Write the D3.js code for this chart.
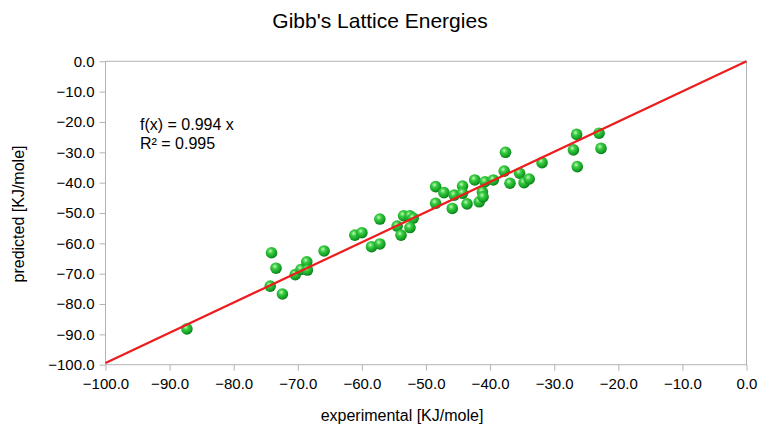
<!DOCTYPE html>
<html>
<head>
<meta charset="utf-8">
<script src="https://cdn.jsdelivr.net/npm/d3@7"></script>
<style>
    body { margin: 0; background: #fff; }
    text { font-family: "Liberation Sans", Arial, sans-serif; fill: #000; }
</style>
</head>
<body>
<div id="chart"></div>
<script>
/* Measured lattice energies against the model's prediction, KJ/mole. */
let experimental = [
    -87.3, -74.1, -73.4, -74.3, -72.4, -70.4, -69.5, -68.6, -68.5, -65.9,
    -61.1, -60.0, -57.2, -58.5, -57.2, -54.5, -53.9, -53.5, -52.5, -52.0,
    -52.5, -48.5, -47.2, -48.5, -45.9, -45.6, -44.3, -44.3, -43.6, -42.4,
    -41.7, -41.2, -40.8, -41.1, -39.5, -37.6, -37.8, -36.9, -35.4, -34.7,
    -33.9, -31.9, -26.5, -27.0, -26.4, -23.0, -22.7
];
let predicted = [
    -88.2, -63.1, -68.2, -74.1, -76.7, -70.3, -68.6, -66.1, -68.8, -62.5,
    -57.3, -56.5, -52.0, -61.1, -60.2, -54.3, -57.3, -50.9, -50.9, -51.7,
    -54.8, -41.3, -43.3, -46.8, -48.5, -44.1, -41.1, -43.5, -47.0, -39.1,
    -46.3, -43.0, -39.7, -44.7, -39.1, -30.0, -36.2, -40.2, -36.9, -40.0,
    -38.8, -33.4, -24.1, -29.2, -34.7, -23.7, -28.7
];

/* Linear trend through the origin, as fitted by the spreadsheet. */
let slope = 0.994;
let rSquared = 0.995;

/* Axis ticks, both axes run from -100 to 0 in steps of 10. */
let ticks = d3.range(-100, 1, 10);

let width = 760, height = 427;
let margins = {left: 105.5, right: 13.5, top: 61.3, bottom: 62.3};

let svg = d3.select("#chart").append("svg")
    .attr("width", width)
    .attr("height", height);

let xscale = d3.scaleLinear()
    .domain([-100, 0])
    .range([margins.left, width - margins.right]);
let yscale = d3.scaleLinear()
    .domain([-100, 0])
    .range([height - margins.bottom, margins.top]);

/* Shiny green ball used for every data point. */
let grad = svg.append("defs").append("radialGradient")
    .attr("id", "ball")
    .attr("cx", "40%").attr("cy", "35%").attr("r", "65%");
grad.append("stop").attr("offset", "0%").attr("stop-color", "#c4f7bc");
grad.append("stop").attr("offset", "35%").attr("stop-color", "#38cc40");
grad.append("stop").attr("offset", "80%").attr("stop-color", "#14a026");
grad.append("stop").attr("offset", "100%").attr("stop-color", "#0b7a18");

/* Axes: ticks stick out of the frame, no gridlines. */
let fmt = d3.format(".1f");
let xaxis = d3.axisBottom(xscale).tickValues(ticks).tickFormat(fmt)
    .tickSizeOuter(0).tickSizeInner(6).tickPadding(5);
let yaxis = d3.axisLeft(yscale).tickValues(ticks).tickFormat(fmt)
    .tickSizeOuter(0).tickSizeInner(6).tickPadding(5);

let gx = svg.append("g")
    .attr("transform", "translate(0," + (height - margins.bottom) + ")")
    .call(xaxis);
let gy = svg.append("g")
    .attr("transform", "translate(" + margins.left + ",0)")
    .call(yaxis);
[gx, gy].forEach(function(g) {
    g.select(".domain").remove();
    g.selectAll("line").attr("stroke", "#b3b3b3");
    g.selectAll("text")
        .style("font-family", "Liberation Sans, Arial, sans-serif")
        .style("font-size", "15px")
        .attr("fill", "#000");
});
gx.selectAll("text").attr("dy", "0.9em");

/* Plot frame */
svg.append("rect")
    .attr("x", xscale(-100))
    .attr("y", yscale(0))
    .attr("width", xscale(0) - xscale(-100))
    .attr("height", yscale(-100) - yscale(0))
    .attr("fill", "none")
    .attr("stroke", "#b3b3b3")
    .attr("stroke-width", 1);

/* Data points */
svg.selectAll("circle.pt")
    .data(d3.zip(experimental, predicted))
    .enter()
    .append("circle")
        .attr("class", "pt")
        .attr("cx", d => xscale(d[0]))
        .attr("cy", d => yscale(d[1]))
        .attr("r", 5.8)
        .attr("fill", "url(#ball)");

/* Trend line f(x) = slope * x over the full x range */
let line = d3.line()
    .x(d => xscale(d))
    .y(d => yscale(slope * d));
svg.append("path")
    .attr("d", line([-100, 0]))
    .attr("stroke", "#ee1c1c")
    .attr("stroke-width", 2.2)
    .attr("fill", "none");

/* Equation and R² */
svg.append("text")
    .attr("x", 140).attr("y", 130)
    .style("font-size", "16px")
    .text("f(x) = " + slope + " x");
svg.append("text")
    .attr("x", 140).attr("y", 149)
    .style("font-size", "16px")
    .text("R² = " + rSquared);

/* Titles */
svg.append("text")
    .attr("x", 380).attr("y", 28)
    .attr("text-anchor", "middle")
    .style("font-size", "21px")
    .text("Gibb's Lattice Energies");
svg.append("text")
    .attr("x", 402).attr("y", 421)
    .attr("text-anchor", "middle")
    .style("font-size", "16px")
    .text("experimental [KJ/mole]");
svg.append("text")
    .attr("transform", "translate(24," + 214 + ") rotate(-90)")
    .attr("text-anchor", "middle")
    .style("font-size", "16px")
    .text("predicted [KJ/mole]");
</script>
</body>
</html>
